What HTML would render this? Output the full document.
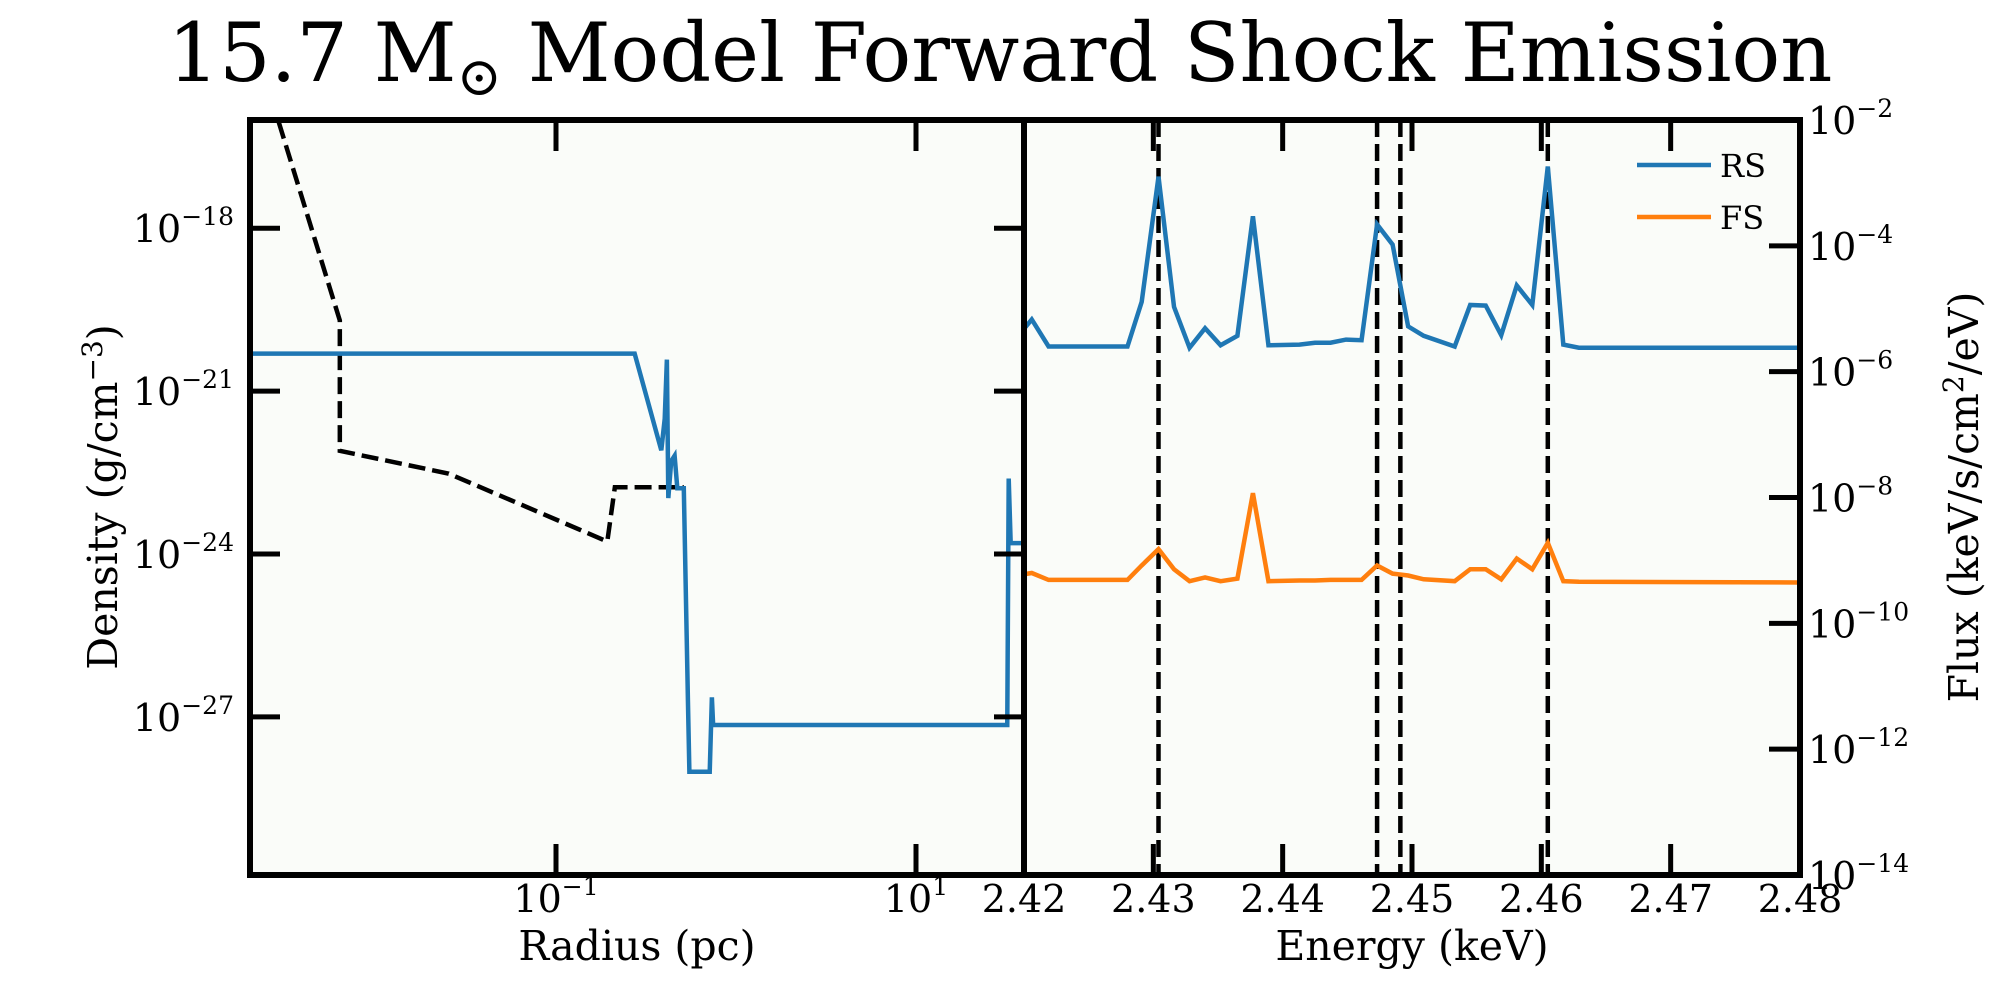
<!DOCTYPE html>
<html><head><meta charset="utf-8"><style>
html,body{margin:0;padding:0;background:#fff;}
svg{display:block;font-family:"DejaVu Serif","Liberation Serif",serif;}
</style></head><body>
<svg id="fig" width="2000" height="1000" viewBox="0 0 2000 1000">
<text x="1000" y="81" font-size="81" text-anchor="middle">15.7 M<tspan font-size="54" dy="14">⊙</tspan><tspan dy="-14"> Model Forward Shock Emission</tspan></text>
<g id="left"></g>
<g id="right"></g>
</svg>
<script>
// Left panel data: log10 radius (pc), log10 density (g/cm^3)
const densLogR = [-2.704,-0.563,-0.415,-0.396,-0.384,-0.376,-0.36,-0.341,-0.326,-0.29,-0.267,-0.259,-0.146,-0.134,-0.127,1.507,1.515,1.526,1.62];
const densLogRho = [-20.31,-20.31,-22.09,-21.51,-20.42,-22.97,-22.29,-22.19,-22.79,-22.79,-26.71,-28.01,-28.01,-26.64,-27.15,-27.15,-22.61,-23.80,-23.80];
const ambLogR = [-2.54,-2.201,-2.201,-1.596,-0.715,-0.673,-0.29];
const ambLogRho = [-16.05,-19.70,-22.10,-22.52,-23.77,-22.77,-22.77];
const leftYTicks = [-18,-21,-24,-27];
const leftXTicks = [-1,1];
// Right panel data
const energy = [2.42,2.4206,2.4219,2.428,2.4291,2.4304,2.4316,2.4328,2.434,2.4352,2.4365,2.4377,2.4389,2.4413,2.4425,2.4437,2.4449,2.4461,2.4473,2.4485,2.4497,2.4509,2.4533,2.4545,2.4557,2.4569,2.4581,2.4593,2.4605,2.4617,2.4629,2.48];
const rsFlux = [-5.32,-5.17,-5.60,-5.60,-4.89,-2.90,-4.97,-5.62,-5.31,-5.58,-5.43,-3.53,-5.58,-5.57,-5.54,-5.54,-5.49,-5.50,-3.66,-3.98,-5.28,-5.43,-5.60,-4.94,-4.95,-5.42,-4.63,-4.94,-2.74,-5.57,-5.62,-5.62];
const fsFlux = [-9.22,-9.20,-9.31,-9.31,-9.08,-8.82,-9.14,-9.33,-9.27,-9.33,-9.29,-7.93,-9.33,-9.32,-9.32,-9.31,-9.31,-9.31,-9.08,-9.21,-9.24,-9.30,-9.33,-9.14,-9.14,-9.30,-8.97,-9.14,-8.72,-9.33,-9.34,-9.35];
const lineEnergies = [2.4304,2.4473,2.4491,2.4605];
const rightXTicks = [2.42,2.43,2.44,2.45,2.46,2.47,2.48];
const rightYTicks = [-2,-4,-6,-8,-10,-12,-14];

const NS="http://www.w3.org/2000/svg";
function mk(parent,tag,attrs){const e=document.createElementNS(NS,tag);for(const k in attrs)e.setAttribute(k,attrs[k]);parent.appendChild(e);return e;}
function powLabel(parent,x,y,exp,anchor){
  const t=mk(parent,'text',{x:x,y:y,'font-size':38,'text-anchor':anchor});
  t.appendChild(document.createTextNode('10'));
  const s=mk(t,'tspan',{dy:-17,'font-size':25});s.textContent='−'+Math.abs(exp);
  if(exp>0) s.textContent=String(exp);
  return t;
}
const BLUE='#1f77b4',ORANGE='#ff7f0e';
const LW=4.5;
// Left axes
const L={x0:250,x1:1024,y0:120,y1:875};
const lx=v=>556+(v+1)*180;
const ly=v=>228.2-(v+18)*54.3;
const left=document.getElementById('left');
let bg=mk(left,'rect',{x:L.x0,y:L.y0,width:L.x1-L.x0,height:L.y1-L.y0,fill:'#fafcf9'});


const clipL=mk(mk(left,'defs',{}),'clipPath',{id:'cl'});mk(clipL,'rect',{x:L.x0,y:L.y0,width:L.x1-L.x0,height:L.y1-L.y0});
let amb=mk(left,'polyline',{points:ambLogR.map((r,i)=>lx(r)+','+ly(ambLogRho[i])).join(' '),fill:'none',stroke:'#000','stroke-width':LW,'stroke-dasharray':'17,7','clip-path':'url(#cl)'});


let den=mk(left,'polyline',{points:densLogR.map((r,i)=>lx(r)+','+ly(densLogRho[i])).join(' '),fill:'none',stroke:BLUE,'stroke-width':LW,'clip-path':'url(#cl)'});


leftYTicks.forEach(v=>{
  const y=ly(v);
  mk(left,'line',{x1:L.x0,x2:L.x0+30,y1:y,y2:y,stroke:'#000','stroke-width':5});
  mk(left,'line',{x1:L.x1-30,x2:L.x1,y1:y,y2:y,stroke:'#000','stroke-width':5});
  const t=powLabel(left,234,y+14,v,'end');
  
  
});
leftXTicks.forEach(v=>{
  const x=lx(v);
  mk(left,'line',{x1:x,x2:x,y1:L.y0,y2:L.y0+31,stroke:'#000','stroke-width':5});
  mk(left,'line',{x1:x,x2:x,y1:L.y1-31,y2:L.y1,stroke:'#000','stroke-width':5});
  const t=powLabel(left,x,912,v,'middle');
  
  
});
mk(left,'rect',{x:L.x0,y:L.y0,width:L.x1-L.x0,height:L.y1-L.y0,fill:'none',stroke:'#000','stroke-width':6});
let xl=mk(left,'text',{x:637,y:960,'font-size':41,'text-anchor':'middle'});xl.textContent='Radius (pc)';


let yl=mk(left,'text',{x:0,y:0,'font-size':41,'text-anchor':'middle',transform:'translate(117,497) rotate(-90)'});
yl.textContent='Density (g/cm';const ys=mk(yl,'tspan',{dy:-15,'font-size':28});ys.textContent='−3';const ye=mk(yl,'tspan',{dy:15});ye.textContent=')';



// Right axes
const R={x0:1024,x1:1800,y0:120,y1:875};
const rx=e=>R.x0+(e-2.42)/0.06*(R.x1-R.x0);
const ry=v=>R.y0+(-2-v)/12*(R.y1-R.y0);
const right=document.getElementById('right');
let bg2=mk(right,'rect',{x:R.x0,y:R.y0,width:R.x1-R.x0,height:R.y1-R.y0,fill:'#fafcf9'});


lineEnergies.forEach(e=>{
  const l=mk(right,'line',{x1:rx(e),x2:rx(e),y1:R.y0,y2:R.y1,stroke:'#000','stroke-width':LW,'stroke-dasharray':'17,7'});
  
  
});
let rs=mk(right,'polyline',{points:energy.map((e,i)=>rx(e)+','+ry(rsFlux[i])).join(' '),fill:'none',stroke:BLUE,'stroke-width':LW});


let fs=mk(right,'polyline',{points:energy.map((e,i)=>rx(e)+','+ry(fsFlux[i])).join(' '),fill:'none',stroke:ORANGE,'stroke-width':LW});


rightXTicks.forEach(e=>{
  const x=rx(e);
  mk(right,'line',{x1:x,x2:x,y1:R.y0,y2:R.y0+31,stroke:'#000','stroke-width':5});
  mk(right,'line',{x1:x,x2:x,y1:R.y1-31,y2:R.y1,stroke:'#000','stroke-width':5});
  const t=mk(right,'text',{x:x,y:912,'font-size':38,'text-anchor':'middle'});t.textContent=e.toFixed(2);
  
  
});
rightYTicks.forEach(v=>{
  const y=ry(v);
  mk(right,'line',{x1:R.x1-31,x2:R.x1,y1:y,y2:y,stroke:'#000','stroke-width':5});
  const t=powLabel(right,1808,y+14,v,'start');
  
  
});
mk(right,'rect',{x:R.x0,y:R.y0,width:R.x1-R.x0,height:R.y1-R.y0,fill:'none',stroke:'#000','stroke-width':6});
let xl2=mk(right,'text',{x:1412,y:960,'font-size':41,'text-anchor':'middle'});xl2.textContent='Energy (keV)';


let yl2=mk(right,'text',{x:0,y:0,'font-size':41,'text-anchor':'middle',transform:'translate(1978,497) rotate(-90)'});
yl2.textContent='Flux (keV/s/cm';const s2=mk(yl2,'tspan',{dy:-15,'font-size':28});s2.textContent='2';const e2=mk(yl2,'tspan',{dy:15});e2.textContent='/eV)';


// legend
const leg=mk(right,'g',{});


[['RS',BLUE,165],['FS',ORANGE,217]].forEach(([n,c,y])=>{
  const g=mk(leg,'g',{});
  
  
  mk(g,'line',{x1:1637,x2:1711,y1:y,y2:y,stroke:c,'stroke-width':LW});
  const t=mk(g,'text',{x:1720,y:y+12,'font-size':32});t.textContent=n;
});
</script>
</body></html>
